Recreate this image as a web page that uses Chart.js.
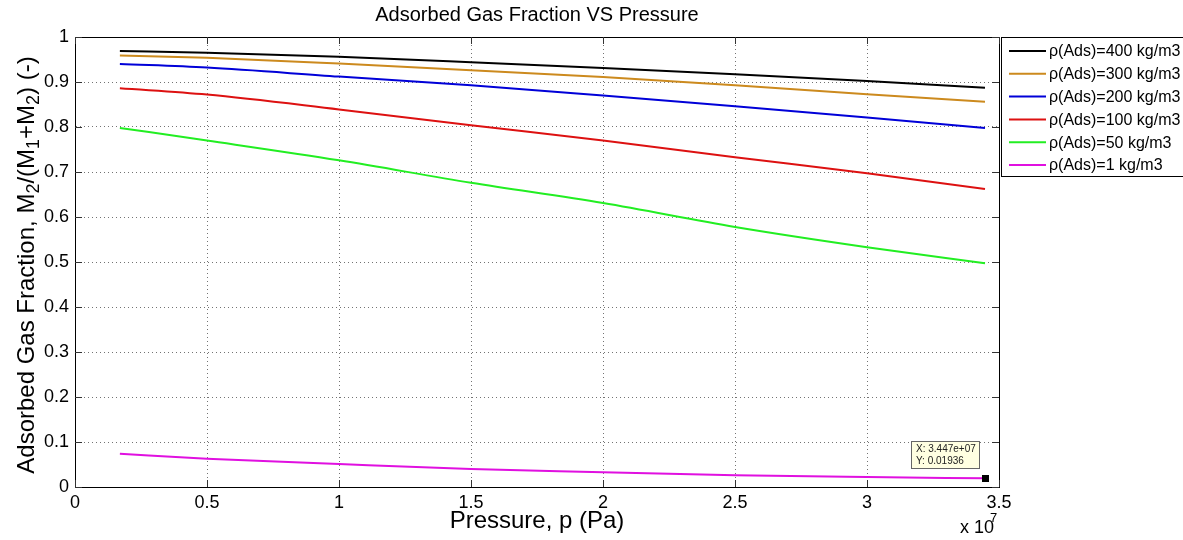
<!DOCTYPE html>
<html>
<head>
<meta charset="utf-8">
<script src="https://cdn.jsdelivr.net/npm/chart.js@4.4.1/dist/chart.umd.min.js"></script>
<style>
html, body { margin: 0; padding: 0; background: #fff; }
#wrap { width: 1183px; height: 540px; position: relative; }
</style>
</head>
<body>
<div id="wrap"><canvas id="chart-adsorbed"></canvas></div>
<script>
// pressure in Pa
var pressure = [0.17e7, 0.5e7, 1.0e7, 1.5e7, 2.0e7, 2.5e7, 3.0e7, 3.447e7];

var rho400 = [0.969, 0.965, 0.956, 0.944, 0.931, 0.917, 0.902, 0.887];
var rho300 = [0.959, 0.954, 0.941, 0.926, 0.911, 0.893, 0.873, 0.856];
var rho200 = [0.940, 0.932, 0.912, 0.893, 0.870, 0.846, 0.821, 0.798];
var rho100 = [0.886, 0.872, 0.839, 0.804, 0.770, 0.733, 0.697, 0.662];
var rho50  = [0.798, 0.770, 0.726, 0.676, 0.631, 0.578, 0.533, 0.497];
var rho1   = [0.074, 0.063, 0.051, 0.040, 0.033, 0.026, 0.022, 0.01936];

var seriesLabels = ["ρ(Ads)=400 kg/m3", "ρ(Ads)=300 kg/m3", "ρ(Ads)=200 kg/m3",
                    "ρ(Ads)=100 kg/m3", "ρ(Ads)=50 kg/m3", "ρ(Ads)=1 kg/m3"];
var seriesColors = ["#000000", "#cc8a1e", "#0000d8", "#dd1111", "#22ee22", "#e010e0"];

var xTicks = [0, 0.5, 1, 1.5, 2, 2.5, 3, 3.5]; // x 10^7
var yTicks = [0, 0.1, 0.2, 0.3, 0.4, 0.5, 0.6, 0.7, 0.8, 0.9, 1];

var FONT = "'Liberation Sans', Arial, sans-serif";

function toPoints(ys) {
    return ys.map(function(y, i) { return { x: pressure[i], y: y }; });
}

var allSeries = [rho400, rho300, rho200, rho100, rho50, rho1];
var datasets = allSeries.map(function(ys, i) {
    return {
        label: seriesLabels[i],
        data: toPoints(ys),
        borderColor: seriesColors[i],
        backgroundColor: seriesColors[i],
        borderWidth: 2,
        pointRadius: 0,
        cubicInterpolationMode: 'monotone'
    };
});

// centred text made of pieces (for subscripts)
function pieceText(ctx, parts, cx, cy) {
    var total = 0;
    parts.forEach(function(p) { ctx.font = p.font; total += ctx.measureText(p.text).width; });
    ctx.textAlign = 'left';
    ctx.textBaseline = 'middle';
    var x = cx - total / 2;
    parts.forEach(function(p) {
        ctx.font = p.font;
        ctx.fillText(p.text, x, cy + (p.dy || 0));
        x += ctx.measureText(p.text).width;
    });
}

// titles, box, inner ticks, legend and data tip (MATLAB look)
var matlabDecor = {
    id: 'matlabDecor',
    afterDraw: function(chart) {
        var ctx = chart.ctx;
        var a = chart.chartArea;
        var xs = chart.scales.x, ys = chart.scales.y;
        ctx.save();

        // axes box
        ctx.strokeStyle = '#000';
        ctx.lineWidth = 1;
        ctx.setLineDash([]);
        ctx.strokeRect(a.left + 0.5, a.top + 0.5, a.right - a.left, a.bottom - a.top);

        // inner tick marks on all sides
        ctx.strokeStyle = '#333';
        ctx.beginPath();
        xTicks.forEach(function(t) {
            var px = Math.round(xs.getPixelForValue(t * 1e7)) + 0.5;
            ctx.moveTo(px, a.bottom); ctx.lineTo(px, a.bottom - 7);
            ctx.moveTo(px, a.top); ctx.lineTo(px, a.top + 7);
        });
        yTicks.forEach(function(t) {
            var py = Math.round(ys.getPixelForValue(t)) + 0.5;
            ctx.moveTo(a.left, py); ctx.lineTo(a.left + 7, py);
            ctx.moveTo(a.right, py); ctx.lineTo(a.right - 7, py);
        });
        ctx.stroke();

        ctx.fillStyle = '#000';
        var midX = (a.left + a.right) / 2;

        // title
        pieceText(ctx, [{ text: 'Adsorbed Gas Fraction VS Pressure', font: '20px ' + FONT }], midX, 15);

        // x title
        pieceText(ctx, [{ text: 'Pressure, p (Pa)', font: '24px ' + FONT }], midX, 521);

        // x 10^7 exponent
        ctx.font = '18px ' + FONT;
        ctx.fillText('x 10', 960, 528);
        ctx.font = '13px ' + FONT;
        ctx.fillText('7', 990, 518);

        // y title with subscripts
        ctx.save();
        ctx.translate(27, (a.top + a.bottom) / 2 + 3);
        ctx.rotate(-Math.PI / 2);
        var big = '24px ' + FONT, small = '18px ' + FONT;
        pieceText(ctx, [
            { text: 'Adsorbed Gas Fraction, M', font: big },
            { text: '2', font: small, dy: 7 },
            { text: '/(M', font: big },
            { text: '1', font: small, dy: 7 },
            { text: '+M', font: big },
            { text: '2', font: small, dy: 7 },
            { text: ') (-)', font: big }
        ], 0, 0);
        ctx.restore();

        // legend box
        var lx = 1001, ly = 37, lh = 139;
        ctx.fillStyle = '#fff';
        ctx.fillRect(lx, ly, 200, lh);
        ctx.strokeStyle = '#000';
        ctx.lineWidth = 1;
        ctx.strokeRect(lx + 0.5, ly + 0.5, 200, lh);
        ctx.font = '16px ' + FONT;
        ctx.textBaseline = 'middle';
        ctx.textAlign = 'left';
        chart.data.datasets.forEach(function(ds, i) {
            var iy = ly + 14 + i * 22.8;
            ctx.strokeStyle = ds.borderColor;
            ctx.lineWidth = 2;
            ctx.beginPath();
            ctx.moveTo(1009, iy); ctx.lineTo(1046, iy);
            ctx.stroke();
            ctx.fillStyle = '#000';
            ctx.fillText(ds.label, 1049, iy + 1);
        });

        // data tip on last point of lowest series
        var last = pressure.length - 1;
        var dx = xs.getPixelForValue(pressure[last]);
        var dy = ys.getPixelForValue(rho1[last]);
        ctx.fillStyle = '#000';
        ctx.fillRect(Math.round(dx) - 3, Math.round(dy) - 3, 7, 7);
        var bx = Math.round(dx) - 74, by = Math.round(dy) - 37;
        ctx.fillStyle = '#ffffe1';
        ctx.fillRect(bx, by, 68, 27);
        ctx.strokeStyle = '#666';
        ctx.lineWidth = 1;
        ctx.strokeRect(bx + 0.5, by + 0.5, 68, 27);
        ctx.fillStyle = '#222';
        ctx.font = '10px ' + FONT;
        ctx.fillText('X: ' + pressure[last].toExponential(3).replace('e+', 'e+0'), bx + 5, by + 8);
        ctx.fillText('Y: ' + rho1[last], bx + 5, by + 20);

        ctx.restore();
    }
};

var ctx = document.getElementById('chart-adsorbed');
var myChart = new Chart(ctx, {
    type: 'line',
    data: { datasets: datasets },
    plugins: [matlabDecor],
    options: {
        responsive: true,
        maintainAspectRatio: false,
        animation: false,
        layout: { padding: { top: 37, right: 184, left: 0, bottom: 0 } },
        plugins: {
            legend: { display: false },
            title: { display: false },
            tooltip: { enabled: false }
        },
        scales: {
            x: {
                type: 'linear',
                min: 0,
                max: 3.5e7,
                afterFit: function(s) { s.height = 53; },
                afterBuildTicks: function(s) {
                    s.ticks = xTicks.map(function(v) { return { value: v * 1e7 }; });
                },
                grid: { color: 'rgba(0,0,0,0.55)', drawTicks: false, lineWidth: 1 },
                border: { display: true, color: '#000', dash: [1, 3] },
                ticks: {
                    padding: 5,
                    color: '#000',
                    font: { family: FONT, size: 18 },
                    maxRotation: 0,
                    callback: function(v) { return String(Math.round(v / 1e6) / 10); }
                }
            },
            y: {
                min: 0,
                max: 1,
                afterFit: function(s) { s.width = 75; },
                afterBuildTicks: function(s) {
                    s.ticks = yTicks.map(function(v) { return { value: v }; });
                },
                grid: { color: 'rgba(0,0,0,0.55)', drawTicks: false, lineWidth: 1 },
                border: { display: true, color: '#000', dash: [1, 3] },
                ticks: {
                    padding: 6,
                    color: '#000',
                    font: { family: FONT, size: 18 },
                    callback: function(v) { return String(Math.round(v * 10) / 10); }
                }
            }
        }
    }
});
</script>
</body>
</html>
